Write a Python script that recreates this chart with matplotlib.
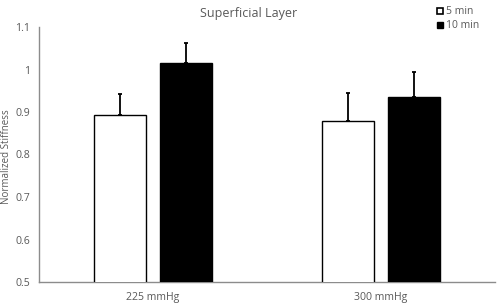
import matplotlib
matplotlib.use('Agg')
from matplotlib import pyplot as plt
from matplotlib.lines import Line2D
import numpy as np

plt.rcParams['font.family'] = ['Open Sans', 'DejaVu Sans']

# data
groups = ['225 mmHg', '300 mmHg']
series = ['5 min', '10 min']
mean_5 = [0.893, 0.880]
mean_10 = [1.015, 0.935]
err_5 = [0.050, 0.065]
err_10 = [0.048, 0.060]

text_grey = '#595959'
axis_grey = '#8c8c8c'

fig = plt.figure(figsize=(4.98, 3.08), dpi=100)
ax = fig.add_axes([39 / 498, 1 - 282 / 308, 456 / 498, 255 / 308])

x = np.arange(len(groups))
width = 0.228
offset = 0.143

ax.bar(x - offset, mean_5, width, color='white', edgecolor='black',
       linewidth=1.0, zorder=3)
ax.bar(x + offset, mean_10, width, color='black', edgecolor='black',
       linewidth=1.0, zorder=3)

# upward-only error bars
ax.errorbar(x - offset, mean_5, yerr=[np.zeros(2), err_5], fmt='none',
            ecolor='black', elinewidth=1.3, capsize=1.5, capthick=1.3, zorder=2)
ax.errorbar(x + offset, mean_10, yerr=[np.zeros(2), err_10], fmt='none',
            ecolor='black', elinewidth=1.3, capsize=1.5, capthick=1.3, zorder=2)

ax.set_xlim(-0.5, 1.5)
ax.set_ylim(0.5, 1.1)
ax.set_yticks([0.5, 0.6, 0.7, 0.8, 0.9, 1.0, 1.1])
ax.set_yticklabels(['0.5', '0.6', '0.7', '0.8', '0.9', '1', '1.1'])
ax.set_xticks(x)
ax.set_xticklabels(groups)

ax.tick_params(axis='both', length=0, colors=text_grey, labelsize=7.6)
ax.tick_params(axis='y', pad=6.5)
ax.tick_params(axis='x', pad=7)
for s in ['top', 'right']:
    ax.spines[s].set_visible(False)
for s in ['left', 'bottom']:
    ax.spines[s].set_color(axis_grey)
    ax.spines[s].set_linewidth(1.0)

ax.set_ylabel('Normalized Stiffness', fontsize=7, color=text_grey, va='center')
ax.yaxis.set_label_coords(-0.0705, 0.49)
fig.text(0.5, 1 - 13 / 308, 'Superficial Layer', ha='center', va='center',
         fontsize=9, color=text_grey)

handles = [
    Line2D([], [], marker='s', linestyle='none', markerfacecolor='white',
           markeredgecolor='black', markeredgewidth=1.2, markersize=5),
    Line2D([], [], marker='s', linestyle='none', markerfacecolor='black',
           markeredgecolor='black', markersize=5),
]
leg = fig.legend(handles, series, loc='upper left',
                 bbox_to_anchor=(433 / 498, 1 - 2 / 308),
                 frameon=False, fontsize=7.5, handlelength=0.6, handletextpad=0.25,
                 labelspacing=0.3, borderaxespad=0)
for t in leg.get_texts():
    t.set_color(text_grey)

fig.savefig('out.png', dpi=100)
